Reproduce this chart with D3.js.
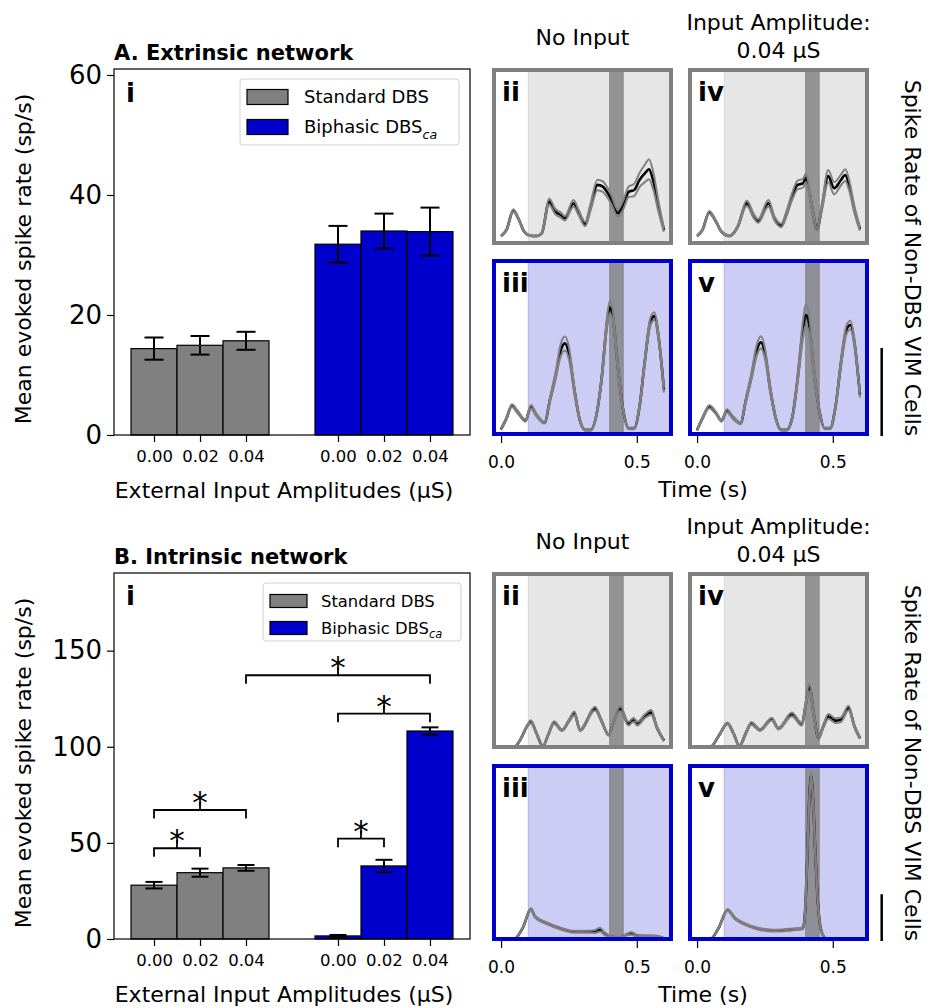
<!DOCTYPE html>
<html>
<head>
<meta charset="utf-8">
<script src="https://cdn.jsdelivr.net/npm/d3@7"></script>
<style>
  body { margin: 0; background: #fff; }
  svg { display: block; font-family: "DejaVu Sans", sans-serif; }
</style>
</head>
<body>
<script>
// ---- bar chart data ----
const amps = ["0.00", "0.02", "0.04"];
const seriesNames = ["Standard DBS", "Biphasic DBS"];

const extStd = [14.4, 14.95, 15.7], extStdErr = [1.85, 1.55, 1.5];
const extBi = [31.8, 34.0, 33.9], extBiErr = [3.05, 2.9, 4.0];
const extTicks = [0, 20, 40, 60];

const intStd = [28.0, 34.5, 37.0], intStdErr = [1.7, 2.1, 1.5];
const intBi = [1.6, 38.0, 108.2], intBiErr = [0.5, 3.2, 1.9];
const intTicks = [0, 50, 100, 150];

// significance brackets (bar slot from, bar slot to, height in sp/s)
const sigFrom = [0, 0, 4, 4, 2];
const sigTo = [1, 2, 5, 6, 6];
const sigY = [47.2, 67.1, 52.2, 117.2, 137.2];

// ---- PSTH traces (time s, mean, sd) ----
const tA2 = [0, 0.02, 0.045, 0.065, 0.085, 0.105, 0.13, 0.15, 0.177, 0.2, 0.22, 0.235, 0.267, 0.285, 0.31, 0.33, 0.355, 0.375, 0.39, 0.405, 0.43, 0.45, 0.47, 0.49, 0.51, 0.53, 0.545, 0.56, 0.58, 0.6];
const mA2 = [0, 3.4, 14.4, 9.5, 2.5, 0.3, 0, 1.5, 19.5, 13.8, 11.9, 10, 18.6, 13.5, 6.8, 16.6, 29, 28, 25.1, 21, 12.9, 17.6, 25.1, 26.1, 31.8, 35.6, 37.9, 31.8, 16.6, 3.4];
const sA2 = [0.3, 0.4, 0.8, 0.6, 0.4, 0.3, 0.3, 0.4, 1.8, 1.5, 1.5, 1.2, 1.8, 1.5, 1.2, 2, 3, 3, 2.8, 2.5, 2, 2.5, 3, 3.5, 4, 5, 5.7, 5, 3, 1];

const tA4 = [0, 0.02, 0.045, 0.07, 0.09, 0.12, 0.15, 0.183, 0.21, 0.225, 0.263, 0.285, 0.31, 0.33, 0.35, 0.37, 0.39, 0.401, 0.41, 0.425, 0.442, 0.46, 0.483, 0.505, 0.53, 0.546, 0.56, 0.58, 0.6];
const mA4 = [0, 3.4, 13.4, 8.1, 2.4, 0, 5.3, 18.6, 11, 8.5, 18.6, 10, 6, 12.9, 22.3, 29, 29.9, 33, 28, 15, 3.8, 16.6, 34, 27.1, 31.8, 34.6, 29, 14.75, 4];
const sA4 = [0.3, 0.4, 0.8, 0.6, 0.4, 0.3, 0.5, 1.5, 1.2, 1, 1.8, 1.2, 1, 1.5, 2, 2.5, 2.5, 2.5, 2.5, 1.5, 0.8, 2, 3.5, 3.5, 3, 3.3, 3, 2, 1];

const tA3 = [0, 0.02, 0.04, 0.06, 0.09, 0.11, 0.13, 0.16, 0.18, 0.2, 0.22, 0.235, 0.25, 0.27, 0.29, 0.31, 0.33, 0.35, 0.37, 0.39, 0.4, 0.41, 0.43, 0.45, 0.47, 0.49, 0.51, 0.53, 0.55, 0.565, 0.58, 0.6];
const mA3 = [1.2, 7.4, 14.6, 11.2, 6.1, 14, 9.3, 4.9, 17.8, 31.1, 46.2, 50, 44.4, 23.5, 6.5, 0.8, 0.8, 8.3, 29.2, 61.4, 70.5, 67.1, 36.7, 12.1, 1.7, 1.7, 14, 40.5, 62.3, 65.5, 53.8, 23.5];
const sA3 = [0.5, 0.6, 0.8, 0.8, 0.6, 1, 0.8, 0.5, 1.2, 2, 3.5, 4, 3.5, 2, 0.8, 0.5, 0.5, 0.8, 2, 3, 3.5, 3.2, 2.5, 1, 0.5, 0.5, 1, 2, 2.2, 2.2, 2, 1.5];

const tA5 = [0, 0.02, 0.045, 0.07, 0.09, 0.11, 0.13, 0.16, 0.18, 0.2, 0.22, 0.235, 0.25, 0.27, 0.29, 0.31, 0.33, 0.35, 0.37, 0.39, 0.4, 0.41, 0.43, 0.45, 0.47, 0.49, 0.51, 0.53, 0.55, 0.565, 0.58, 0.6];
const mA5 = [0.8, 7.4, 14, 10.3, 6.1, 11.7, 8.3, 4.6, 17.8, 31.1, 46.2, 50.6, 44.4, 23.5, 7.4, 0.8, 0.8, 7.4, 29.2, 57.6, 66.1, 63.3, 34.9, 12.1, 1.7, 1.7, 14, 38.7, 57.6, 60.4, 50, 20.7];
const sA5 = [0.5, 0.6, 0.8, 0.8, 0.6, 0.8, 0.8, 0.5, 1.2, 2, 3, 3.5, 3, 2, 0.8, 0.5, 0.5, 0.8, 2.5, 5, 6, 5.5, 3, 1, 0.5, 0.5, 1, 2, 2.5, 2.5, 2, 1.5];

const tB2 = [0, 0.05, 0.075, 0.095, 0.11, 0.13, 0.154, 0.175, 0.195, 0.225, 0.25, 0.27, 0.291, 0.346, 0.37, 0.396, 0.415, 0.439, 0.469, 0.488, 0.502, 0.53, 0.553, 0.575, 0.6];
const mB2 = [0, 0.3, 10, 22, 27, 15, 1, 14, 26, 18, 28, 36, 18, 41, 28, 13, 27, 41, 25, 29, 25, 33, 37, 20, 7];
const sB2 = [0, 0, 0.5, 1, 1.5, 1, 0.5, 1, 1.5, 1, 1.5, 2, 1, 2, 1.5, 1, 1.5, 2.5, 2, 2, 2, 2, 2.5, 1.5, 1];

const tB4 = [0, 0.05, 0.08, 0.112, 0.135, 0.156, 0.18, 0.2, 0.232, 0.275, 0.3, 0.349, 0.386, 0.4, 0.414, 0.43, 0.447, 0.465, 0.484, 0.509, 0.53, 0.558, 0.58, 0.6];
const mB4 = [0, 0.3, 12, 25.3, 14, 1, 15, 25.3, 18.2, 29.9, 19.8, 34.9, 24.2, 45, 64, 35, 9.6, 22, 32.8, 28.2, 29.2, 41.7, 22, 9.6];
const sB4 = [0, 0, 0.5, 1, 1, 0.5, 1, 1.5, 1, 1.5, 1, 2, 1.5, 3, 4, 3, 1.5, 2, 2.5, 2.5, 2.5, 2.5, 1.5, 1];

const tB3 = [0, 0.05, 0.08, 0.11, 0.125, 0.168, 0.217, 0.267, 0.316, 0.345, 0.365, 0.38, 0.396, 0.42, 0.44, 0.465, 0.48, 0.5, 0.54, 0.575, 0.6];
const mB3 = [0, 0.3, 12, 32, 24, 16.8, 11.4, 7.8, 7.8, 8, 10, 6, 3.5, 1.8, 1.8, 5, 6, 3.5, 3.2, 3, 0.5];
const sB3 = [0, 0, 0.5, 1, 1, 1, 1, 1, 1, 1.5, 2, 1.5, 1, 0.5, 0.5, 1, 1.5, 1, 0.5, 0.5, 0.3];

const tB5 = [0, 0.05, 0.08, 0.112, 0.14, 0.17, 0.22, 0.28, 0.355, 0.39, 0.398, 0.405, 0.412, 0.42, 0.428, 0.436, 0.445, 0.455, 0.468, 0.48, 0.54, 0.6];
const mB5 = [0, 0.3, 12, 31, 22, 16.8, 11.4, 8.9, 10.3, 11.4, 30, 80, 140, 175, 145, 90, 40, 12, 2, 0, 0, 0.5];
const sB5 = [0, 0, 0.5, 1, 1, 1, 1, 1, 1, 1, 2, 3, 3.5, 3, 3.5, 3, 2, 1, 0.5, 0, 0, 0.3];

const timeTicks = [0, 0.5];
const stimOn = 0.1, bandFrom = 0.4, bandTo = 0.45;

const gray = "#808080", blue = "#0000cc";

let svg = d3.select("body").append("svg")
    .attr("width", 932)
    .attr("height", 1008);
svg.append("rect").attr("width", 932).attr("height", 1008).attr("fill", "#fff");

// ---------- bar panels ----------
const drawBars = (o) => {
    let w = 356, h = 366;
    let g = svg.append("g").attr("transform", "translate(" + o.left + "," + o.top + ")");
    let x = d3.scaleLinear().domain([-0.87, 6.87]).range([0, w]);
    let y = d3.scaleLinear().domain([0, o.ymax]).range([h, 0]);

    let bars = o.std.map((v, i) => ({pos: i, v: v, e: o.stdErr[i], c: gray}))
        .concat(o.bi.map((v, i) => ({pos: i + 4, v: v, e: o.biErr[i], c: blue})));

    g.selectAll(".bar")
        .data(bars)
        .enter()
        .append("rect")
            .attr("x", d => x(d.pos - 0.5))
            .attr("y", d => y(d.v))
            .attr("width", x(1) - x(0))
            .attr("height", d => h - y(d.v))
            .attr("fill", d => d.c)
            .attr("stroke", "#000")
            .attr("stroke-width", 1.2);

    let err = g.append("g").attr("stroke", "#000").attr("stroke-width", 2);
    bars.forEach(d => {
        err.append("line").attr("x1", x(d.pos)).attr("x2", x(d.pos))
            .attr("y1", y(d.v - d.e)).attr("y2", y(d.v + d.e));
        [d.v - d.e, d.v + d.e].forEach(v => {
            err.append("line").attr("x1", x(d.pos) - o.cap).attr("x2", x(d.pos) + o.cap)
                .attr("y1", y(v)).attr("y2", y(v));
        });
    });

    // significance brackets
    if (o.sig) {
        let sg = g.append("g");
        o.sig.from.forEach((f, i) => {
            let x1 = x(f), x2 = x(o.sig.to[i]), yy = y(o.sig.y[i]), xm = (x1 + x2) / 2;
            sg.append("path")
                .attr("d", "M" + x1 + "," + (yy + 8.5) + "V" + yy + "H" + x2 + "V" + (yy + 8.5)
                    + "M" + xm + "," + yy + "V" + (yy - 8))
                .attr("fill", "none").attr("stroke", "#000").attr("stroke-width", 1.8);
            sg.append("text").attr("x", xm).attr("y", yy + 3)
                .attr("text-anchor", "middle").attr("font-size", 31).text("*");
        });
    }

    let yAxis = d3.axisLeft(y).tickValues(o.ticks).tickSize(7).tickPadding(5);
    g.append("g").call(yAxis)
        .call(a => a.select(".domain").remove())
        .call(a => a.selectAll("line").attr("stroke-width", 1.2))
        .call(a => a.selectAll("text").attr("font-size", 26).attr("font-family", "DejaVu Sans"));

    let xAxis = d3.axisBottom(x).tickValues(bars.map(d => d.pos))
        .tickFormat((d, i) => amps[i % 3]).tickSize(7).tickPadding(8);
    g.append("g").attr("transform", "translate(0," + h + ")").call(xAxis)
        .call(a => a.select(".domain").remove())
        .call(a => a.selectAll("line").attr("stroke-width", 1.2))
        .call(a => a.selectAll("text").attr("font-size", 16.5).attr("font-family", "DejaVu Sans"));

    g.append("rect").attr("width", w).attr("height", h)
        .attr("fill", "none").attr("stroke", "#000").attr("stroke-width", 1.2);

    // legend
    let L = o.legend;
    let lg = g.append("g").attr("transform", "translate(" + L.x + "," + L.y + ")");
    lg.append("rect").attr("width", L.w).attr("height", L.h).attr("rx", 3)
        .attr("fill", "#fff").attr("fill-opacity", 0.8).attr("stroke", "#d0d0d0");
    [gray, blue].forEach((c, i) => {
        let cy = L.row0 + i * L.step;
        lg.append("rect").attr("x", 7).attr("y", cy - L.ph / 2).attr("width", L.pw).attr("height", L.ph)
            .attr("fill", c).attr("stroke", "#000").attr("stroke-width", 1.2);
        let t = lg.append("text").attr("x", L.tx).attr("y", cy).attr("dy", "0.36em")
            .attr("font-size", L.fs).text(seriesNames[i]);
        if (i === 1) {
            t.append("tspan").attr("dy", L.fs * 0.28).attr("font-size", L.fs * 0.7)
                .attr("font-style", "italic").text("ca");
        }
    });

    g.append("text").attr("x", 12).attr("y", o.iY).attr("font-size", 26)
        .attr("font-weight", "bold").text("i");
    g.append("text").attr("x", 0).attr("y", -9).attr("font-size", 21)
        .attr("font-weight", "bold").text(o.title);
    g.append("text").attr("x", w / 2 - 8).attr("y", h + 63).attr("text-anchor", "middle")
        .attr("font-size", 22).text("External Input Amplitudes (\u00b5S)");
    svg.append("text").attr("transform", "translate(31," + o.yLabY + ") rotate(-90)")
        .attr("text-anchor", "middle").attr("font-size", 22).text("Mean evoked spike rate (sp/s)");
};

drawBars({
    left: 114, top: 69, ymax: 61, ticks: extTicks, cap: 9.5,
    std: extStd, stdErr: extStdErr, bi: extBi, biErr: extBiErr,
    title: "A. Extrinsic network", iY: 33, yLabY: 259,
    legend: {x: 126, y: 10, w: 219, h: 66, row0: 18, step: 30, pw: 41, ph: 15, tx: 64, fs: 18}
});

drawBars({
    left: 114, top: 573, ymax: 190.4, ticks: intTicks, cap: 8.5,
    std: intStd, stdErr: intStdErr, bi: intBi, biErr: intBiErr,
    sig: {from: sigFrom, to: sigTo, y: sigY},
    title: "B. Intrinsic network", iY: 32, yLabY: 763,
    legend: {x: 149, y: 10, w: 198, h: 58, row0: 18, step: 27, pw: 37, ph: 13, tx: 58, fs: 16.4}
});

// ---------- PSTH panels ----------
let clipId = 0;
const drawTrace = (o) => {
    let w = 177, h = 173;
    let g = svg.append("g").attr("transform", "translate(" + o.left + "," + o.top + ")");
    let x = d3.scaleLinear().domain([-0.026, 0.626]).range([0, w]);
    let y = d3.scaleLinear().domain(o.dom).range([h, 0]);
    let cid = "clip" + (clipId++);
    g.append("clipPath").attr("id", cid).append("rect").attr("width", w).attr("height", h);
    let inner = g.append("g").attr("clip-path", "url(#" + cid + ")");

    inner.append("rect").attr("x", x(stimOn)).attr("width", w - x(stimOn)).attr("height", h + 2)
        .attr("fill", o.col).attr("fill-opacity", 0.2)
        .attr("stroke", o.col).attr("stroke-opacity", 0.2);
    inner.append("rect").attr("x", x(bandFrom)).attr("width", x(bandTo) - x(bandFrom)).attr("height", h + 2)
        .attr("fill", gray).attr("fill-opacity", 0.8)
        .attr("stroke", gray).attr("stroke-opacity", 0.8);

    let pts = o.t.map((t, i) => ({t: t, m: o.m[i], s: o.s[i]}));
    const line = (f) => d3.line().x(d => x(d.t)).y(d => y(f(d))).curve(d3.curveMonotoneX)(pts);
    inner.append("path").attr("d", line(d => d.m))
        .attr("fill", "none").attr("stroke", "#000").attr("stroke-width", 2.6);
    [d => d.m + d.s, d => d.m - d.s].forEach(f => {
        inner.append("path").attr("d", line(f))
            .attr("fill", "none").attr("stroke", gray).attr("stroke-width", 2);
    });

    g.append("rect").attr("width", w).attr("height", h)
        .attr("fill", "none").attr("stroke", o.col).attr("stroke-width", 4);
    g.append("text").attr("x", 8).attr("y", 31).attr("font-size", 26)
        .attr("font-weight", "bold").text(o.label);

    if (o.axis) {
        let xAxis = d3.axisBottom(x).tickValues(timeTicks).tickFormat(d3.format(".1f"))
            .tickSize(7).tickPadding(13);
        g.append("g").attr("transform", "translate(0," + (h + 2) + ")").call(xAxis)
            .call(a => a.select(".domain").remove())
            .call(a => a.selectAll("line").attr("stroke-width", 1.2))
            .call(a => a.selectAll("text").attr("font-size", 17).attr("font-family", "DejaVu Sans"));
    }
    return y;
};

const rows = [
    {tops: [70, 261], doms: [[-4, 94.3], [-1.5, 96.8]],
     traces: [[tA2, mA2, sA2], [tA4, mA4, sA4], [tA3, mA3, sA3], [tA5, mA5, sA5]], labY: 258},
    {tops: [574, 766], doms: [[0, 185], [0, 185]],
     traces: [[tB2, mB2, sB2], [tB4, mB4, sB4], [tB3, mB3, sB3], [tB5, mB5, sB5]], labY: 763}
];
const panelLabels = ["ii", "iv", "iii", "v"];
const colLeft = [494, 690];

rows.forEach(r => {
    let yBottom;
    [0, 1].forEach(ri => {
        [0, 1].forEach(ci => {
            let k = ri * 2 + ci, tr = r.traces[k];
            yBottom = drawTrace({
                left: colLeft[ci], top: r.tops[ri], dom: r.doms[ri],
                col: ri === 0 ? gray : blue, t: tr[0], m: tr[1], s: tr[2],
                label: panelLabels[k], axis: ri === 1
            });
        });
    });
    let top = r.tops[0];
    svg.append("text").attr("x", colLeft[0] + 88.5).attr("y", top - 25)
        .attr("text-anchor", "middle").attr("font-size", 22).text("No Input");
    svg.append("text").attr("x", colLeft[1] + 88.5).attr("y", top - 40)
        .attr("text-anchor", "middle").attr("font-size", 22).text("Input Amplitude:");
    svg.append("text").attr("x", colLeft[1] + 88.5).attr("y", top - 12)
        .attr("text-anchor", "middle").attr("font-size", 22).text("0.04 \u00b5S");
    let bot = r.tops[1] + 173;
    svg.append("text").attr("x", 703).attr("y", bot + 63)
        .attr("text-anchor", "middle").attr("font-size", 22).text("Time (s)");
    // 50 sp/s scale bar
    let len = yBottom(0) - yBottom(50);
    svg.append("line").attr("x1", 881.7).attr("x2", 881.7)
        .attr("y1", bot + 2).attr("y2", bot + 2 - len)
        .attr("stroke", "#000").attr("stroke-width", 2.5);
    svg.append("text").attr("transform", "translate(905," + r.labY + ") rotate(90)")
        .attr("text-anchor", "middle").attr("font-size", 22).text("Spike Rate of Non-DBS VIM Cells");
});
</script>
</body>
</html>
